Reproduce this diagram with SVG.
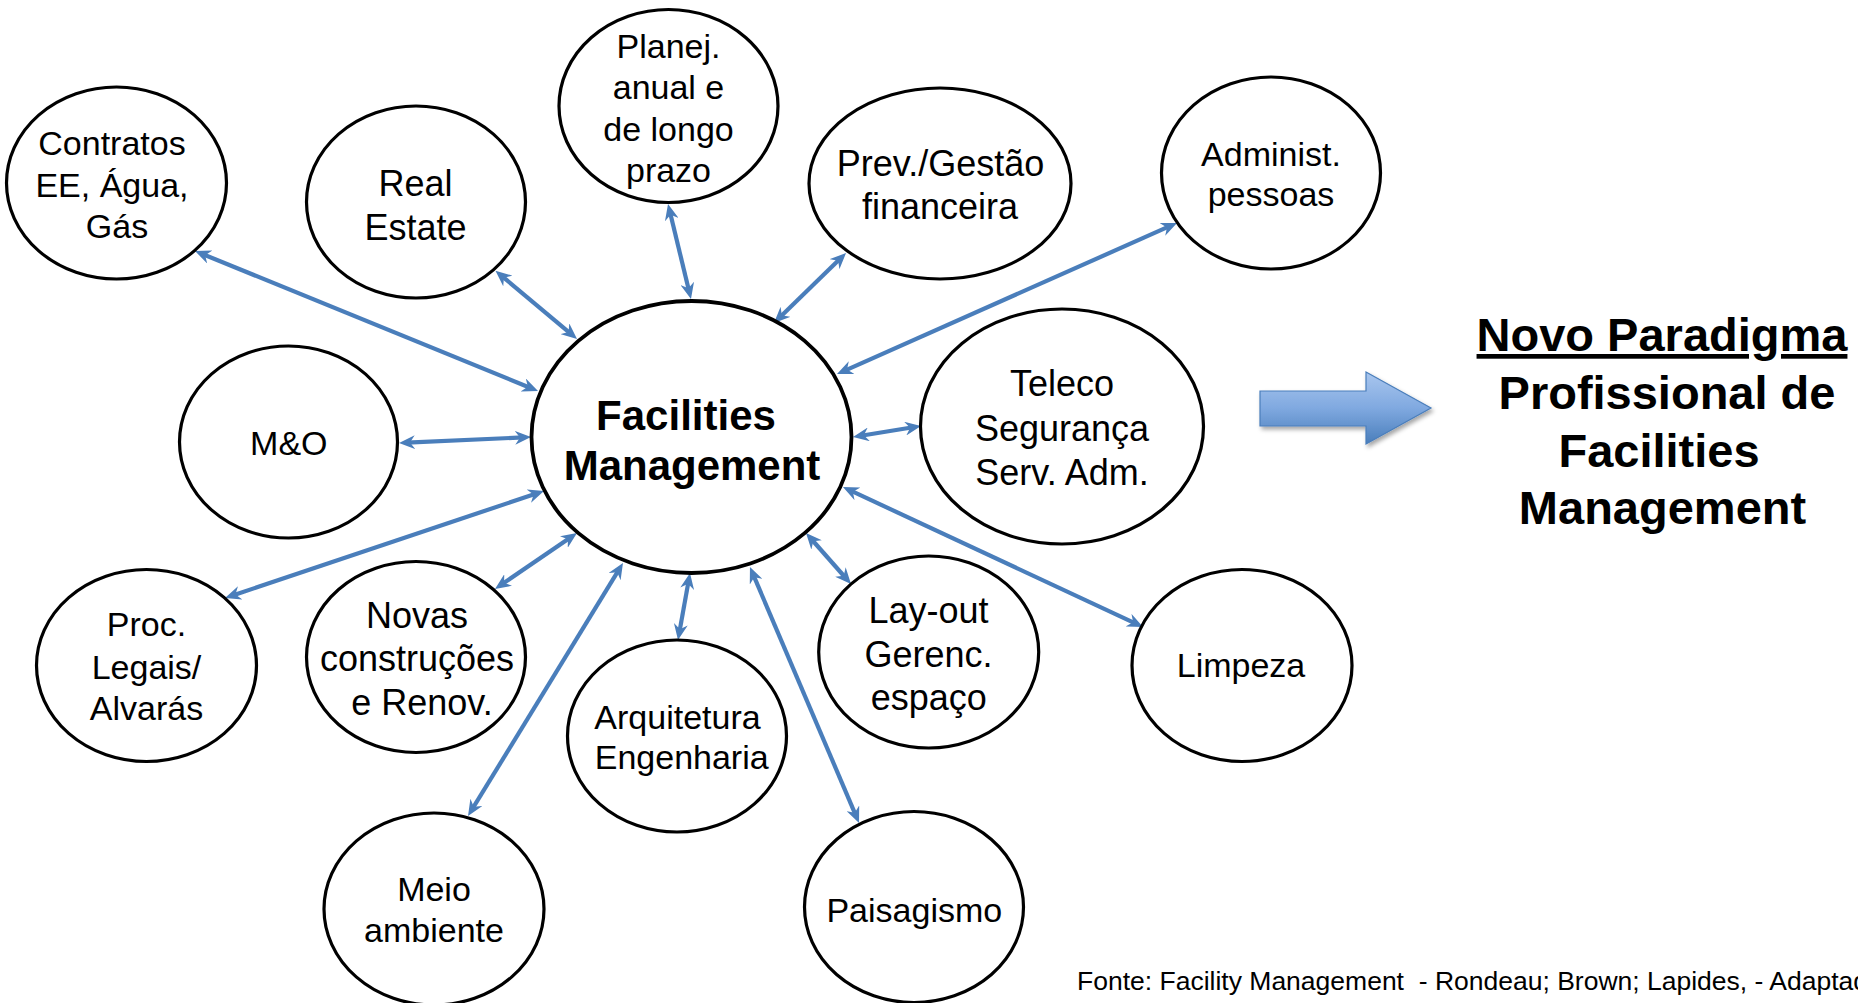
<svg xmlns="http://www.w3.org/2000/svg" width="1858" height="1003" viewBox="0 0 1858 1003">
<style>
.node ellipse{fill:#ffffff;stroke:#000000;stroke-width:3.2}
.node text{font-family:"Liberation Sans",Arial,sans-serif;fill:#000000;text-anchor:middle}
.f34{font-size:34px}
.f36{font-size:36px}
.bold{font-weight:bold}
.conn line{stroke:#4a7ebb;stroke-width:4.2;fill:none;marker-start:url(#ah);marker-end:url(#ah)}
.title text{font-family:"Liberation Sans",Arial,sans-serif;font-weight:bold;font-size:47px;text-anchor:middle;fill:#000}
.foot{font-family:"Liberation Sans",Arial,sans-serif;font-size:26.5px;fill:#000;white-space:pre}
</style>
<defs>
<marker id="ah" viewBox="0 0 16 14" refX="8" refY="7" markerWidth="16" markerHeight="14" markerUnits="userSpaceOnUse" orient="auto-start-reverse">
<path d="M0,0 L16,7 L0,14 L5,7 Z" fill="#4a7ebb"/>
</marker>
<linearGradient id="bg" x1="0" y1="0" x2="0" y2="1">
<stop offset="0" stop-color="#a9c6ee"/>
<stop offset="0.5" stop-color="#80a9e0"/>
<stop offset="1" stop-color="#4a7ebb"/>
</linearGradient>
<filter id="sh" x="-20%" y="-20%" width="140%" height="160%">
<feDropShadow dx="2" dy="3" stdDeviation="2" flood-color="#000" flood-opacity="0.35"/>
</filter>
</defs>
<rect width="1858" height="1003" fill="#ffffff"/>

<g id="connectors" class="conn">
<line x1="202.4" y1="254.0" x2="530.6" y2="388.0"/>
<line x1="501.6" y1="275.8" x2="570.9" y2="333.9"/>
<line x1="669.9" y1="211.8" x2="689.1" y2="291.2"/>
<line x1="840.3" y1="258.6" x2="779.7" y2="317.4"/>
<line x1="1169.7" y1="226.2" x2="844.3" y2="370.8"/>
<line x1="407" y1="442.6" x2="523" y2="437.4"/>
<line x1="232.6" y1="595.5" x2="536.4" y2="493.5"/>
<line x1="501.6" y1="584.5" x2="570.4" y2="537.5"/>
<line x1="472.2" y1="809.2" x2="618.8" y2="569.8"/>
<line x1="679.4" y1="632.1" x2="688.6" y2="580.9"/>
<line x1="855.9" y1="815.6" x2="753.1" y2="574.4"/>
<line x1="845.7" y1="578" x2="811.3" y2="539"/>
<line x1="1135.8" y1="623.6" x2="850.2" y2="490.4"/>
<line x1="913.1" y1="427.3" x2="860.9" y2="435.7"/>
</g>

<g id="n-contratos" class="node">
<ellipse cx="116.5" cy="183" rx="110" ry="96"/>
<text class="f34"><tspan x="112" y="155">Contratos</tspan><tspan x="112" y="196.5">EE, Água,</tspan><tspan x="117" y="238">Gás</tspan></text>
</g>
<g id="n-realestate" class="node">
<ellipse cx="416" cy="202" rx="109.5" ry="96"/>
<text class="f36"><tspan x="415.5" y="196">Real</tspan><tspan x="415.5" y="240">Estate</tspan></text>
</g>
<g id="n-planej" class="node">
<ellipse cx="668.5" cy="106" rx="109.5" ry="96.5"/>
<text class="f34"><tspan x="668.5" y="57.5">Planej.</tspan><tspan x="668.5" y="99">anual e</tspan><tspan x="668.5" y="140.5">de longo</tspan><tspan x="668.5" y="182">prazo</tspan></text>
</g>
<g id="n-prev" class="node">
<ellipse cx="940" cy="183.5" rx="131" ry="95.5"/>
<text class="f36"><tspan x="940.5" y="176">Prev./Gestão</tspan><tspan x="940" y="219">financeira</tspan></text>
</g>
<g id="n-administ" class="node">
<ellipse cx="1271" cy="173" rx="109.5" ry="96"/>
<text class="f34"><tspan x="1271" y="166">Administ.</tspan><tspan x="1271" y="205.5">pessoas</tspan></text>
</g>
<g id="n-mo" class="node">
<ellipse cx="288.5" cy="442" rx="109" ry="96"/>
<text class="f34" x="288.8" y="455">M&amp;O</text>
</g>
<g id="n-fm" class="node">
<ellipse cx="691.5" cy="437" rx="160" ry="136" style="stroke-width:3.8"/>
<text class="bold" style="font-size:42px"><tspan x="686" y="430">Facilities</tspan><tspan x="692" y="480">Management</tspan></text>
</g>
<g id="n-teleco" class="node">
<ellipse cx="1062" cy="426.5" rx="141.5" ry="117.5"/>
<text class="f36"><tspan x="1062" y="396">Teleco</tspan><tspan x="1062" y="440.5">Segurança</tspan><tspan x="1062" y="485">Serv. Adm.</tspan></text>
</g>
<g id="n-proc" class="node">
<ellipse cx="146.5" cy="665.5" rx="110" ry="96"/>
<text class="f34"><tspan x="146.5" y="636">Proc.</tspan><tspan x="146.5" y="678.5">Legais/</tspan><tspan x="146.5" y="720">Alvarás</tspan></text>
</g>
<g id="n-novas" class="node">
<ellipse cx="416" cy="657" rx="109.5" ry="95.5"/>
<text class="f36"><tspan x="417" y="628">Novas</tspan><tspan x="417" y="671">construções</tspan><tspan x="422" y="715">e Renov.</tspan></text>
</g>
<g id="n-layout" class="node">
<ellipse cx="928.7" cy="652" rx="110" ry="96"/>
<text class="f36"><tspan x="928.6" y="622.5">Lay-out</tspan><tspan x="928.6" y="666.5">Gerenc.</tspan><tspan x="928.8" y="710">espaço</tspan></text>
</g>
<g id="n-arq" class="node">
<ellipse cx="677" cy="736" rx="109.5" ry="96"/>
<text class="f34"><tspan x="677.5" y="728.5">Arquitetura</tspan><tspan x="681.7" y="769">Engenharia</tspan></text>
</g>
<g id="n-limpeza" class="node">
<ellipse cx="1242" cy="665.5" rx="110" ry="96"/>
<text class="f34" x="1241" y="677">Limpeza</text>
</g>
<g id="n-meio" class="node">
<ellipse cx="434" cy="909" rx="110" ry="96"/>
<text class="f34"><tspan x="434" y="900.5">Meio</tspan><tspan x="434" y="942">ambiente</tspan></text>
</g>
<g id="n-paisagismo" class="node">
<ellipse cx="914" cy="907" rx="109.5" ry="95.5"/>
<text class="f34" x="914.3" y="922">Paisagismo</text>
</g>

<g id="block-arrow">
<polygon points="1260,391 1366,391 1366,372 1431,408 1366,444 1366,426 1260,426" fill="url(#bg)" stroke="#4a7ebb" stroke-width="1.2" filter="url(#sh)"/>
</g>

<g id="title" class="title">
<text x="1662" y="351" text-decoration="underline">Novo Paradigma</text>
<text x="1667" y="409">Profissional de</text>
<text x="1659" y="467">Facilities</text>
<text x="1662.5" y="524">Management</text>
</g>

<text id="footer" class="foot" x="1077" y="990">Fonte: Facility Management  - Rondeau; Brown; Lapides, - Adaptad</text>
</svg>
